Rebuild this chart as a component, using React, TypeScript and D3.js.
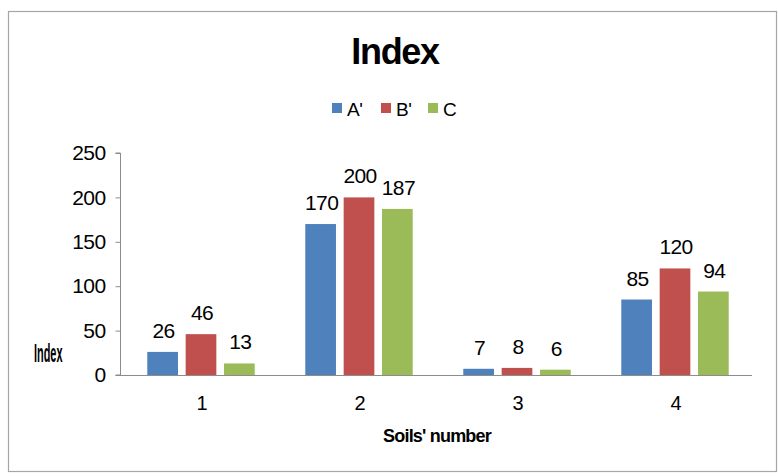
import { useRef, useLayoutEffect } from 'react';
import * as d3 from 'd3';

const categories = ['1', '2', '3', '4'];
const seriesNames = ["A'", "B'", 'C'];
const seriesA = [26, 170, 7, 85];
const seriesB = [46, 200, 8, 120];
const seriesC = [13, 187, 6, 94];
const yTicks = [0, 50, 100, 150, 200, 250];
const colors = ['#4F81BD', '#C0504D', '#9BBB59'];

const W = 778;
const H = 476;
const font = 'Liberation Sans, Arial, sans-serif';

export default function App() {
  const ref = useRef<SVGGElement>(null);

  useLayoutEffect(() => {
    const g = d3.select(ref.current);
    g.selectAll('*').remove();

    const series = [seriesA, seriesB, seriesC];
    const x0 = d3.scaleBand<string>().domain(categories).range([122, 754]).paddingInner(0.32).paddingOuter(0.16);
    const x1 = d3.scaleBand<string>().domain(seriesNames).range([0, x0.bandwidth()]).paddingInner(0.2).paddingOuter(0);
    const y = d3.scaleLinear().domain([0, 250]).range([375, 153]);

    // frame
    g.append('rect')
      .attr('x', 8.5).attr('y', 11.5).attr('width', 768).attr('height', 460)
      .attr('fill', '#fff').attr('stroke', '#a6a6a6').attr('stroke-width', 1.2);

    // title
    g.append('text')
      .attr('x', 395).attr('y', 64).attr('text-anchor', 'middle')
      .attr('font-family', font).attr('font-weight', 'bold').attr('font-size', 36)
      .attr('letter-spacing', -1.3)
      .text('Index');

    // legend
    const legendX = [332, 381, 428];
    seriesNames.forEach((name, i) => {
      g.append('rect').attr('x', legendX[i]).attr('y', 103).attr('width', 10).attr('height', 10).attr('fill', colors[i]);
      g.append('text')
        .attr('x', legendX[i] + 15).attr('y', 116)
        .attr('font-family', font).attr('font-size', 19).attr('letter-spacing', -0.5)
        .text(name);
    });

    // y axis
    const yAxis = g.append('g').attr('transform', 'translate(120.5,0)')
      .call(d3.axisLeft(y).tickValues(yTicks).tickSize(5).tickPadding(10));
    yAxis.select('.domain').attr('stroke', '#8c8c8c').attr('d', `M-5,${y(0)}H0V${y(250)}H-5`);
    yAxis.selectAll('.tick line').attr('stroke', '#8c8c8c');
    yAxis.selectAll('.tick text')
      .attr('font-family', font).attr('font-size', 21).attr('fill', '#000').attr('letter-spacing', -0.6);

    // x axis
    const xAxis = g.append('g').attr('transform', `translate(1,${y(0) + 0.5})`)
      .call(d3.axisBottom(x0).tickSize(0).tickPadding(20));
    xAxis.select('.domain').attr('stroke', '#8c8c8c').attr('d', 'M119,0H751');
    xAxis.selectAll('.tick text')
      .attr('font-family', font).attr('font-size', 20).attr('fill', '#000');

    // bars + labels
    categories.forEach((c, ci) => {
      series.forEach((s, si) => {
        const bx = (x0(c) ?? 0) + (x1(seriesNames[si]) ?? 0);
        g.append('rect')
          .attr('x', bx).attr('y', y(s[ci]))
          .attr('width', x1.bandwidth()).attr('height', y(0) - y(s[ci]))
          .attr('fill', colors[si]);
        g.append('text')
          .attr('x', bx + x1.bandwidth() / 2 + 1).attr('y', y(s[ci]) - 14)
          .attr('text-anchor', 'middle')
          .attr('font-family', font).attr('font-size', 21).attr('letter-spacing', -0.6)
          .text(s[ci]);
      });
    });

    // axis titles
    g.append('text')
      .attr('x', 437).attr('y', 442).attr('text-anchor', 'middle')
      .attr('font-family', font).attr('font-weight', 'bold').attr('font-size', 18).attr('letter-spacing', -0.8)
      .text("Soils' number");

    // squashed y title, glyphs crammed together as in the source
    g.append('text')
      .attr('transform', 'translate(34,362) scale(0.42,1)')
      .attr('font-family', font).attr('font-weight', 'bold').attr('font-size', 26)
      .text('Index');
  }, []);

  return (
    <svg width={W} height={H} style={{ position: 'absolute', left: 0, top: 0 }}>
      <g ref={ref}></g>
    </svg>
  );
}
